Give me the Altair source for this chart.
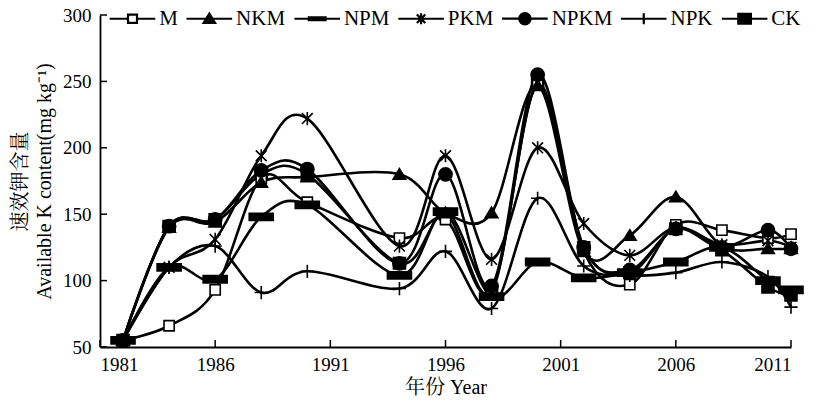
import altair as alt
import pandas as pd

years = [1982, 1984, 1986, 1988, 1990, 1994, 1996, 1998, 2000, 2002, 2004, 2006, 2008, 2010, 2011]
series_names = ["M", "NKM", "NPM", "PKM", "NPKM", "NPK", "CK"]

M_vals    = [55, 66, 93, 177, 159, 132, 146, 92, 247, 122, 97, 142, 138, 132, 135]
NKM_vals  = [55, 140, 144, 174, 178, 180, 151, 151, 247, 122, 134, 163, 126, 124, 124]
NPM_vals  = [55, 110, 101, 148, 157, 104, 152, 88, 114, 102, 106, 114, 125, 100, 93]
PKM_vals  = [55, 110, 131, 194, 222, 126, 194, 116, 200, 143, 119, 140, 127, 130, 125]
NPKM_vals = [55, 141, 146, 183, 184, 113, 180, 96, 255, 125, 108, 139, 125, 138, 124]
NPK_vals  = [55, 110, 126, 91, 107, 94, 122, 79, 162, 111, 104, 106, 114, 103, 80]
CK_vals   = [55, 141, 146, 180, 180, 113, 150, 92, 248, 125, 106, 139, 123, 95, 89]

x_ticks = [1981, 1986, 1991, 1996, 2001, 2006, 2011]
y_ticks = [50, 100, 150, 200, 250, 300]

all_vals = [M_vals, NKM_vals, NPM_vals, PKM_vals, NPKM_vals, NPK_vals, CK_vals]
rows = []
for name, vals in zip(series_names, all_vals):
    for yr, v in zip(years, vals):
        rows.append({"year": yr, "value": v, "series": name})
df = pd.DataFrame(rows)

marker_paths = [
    "M-0.85,-0.85L0.85,-0.85L0.85,0.85L-0.85,0.85Z",          # M open square
    "M0,-0.95L1.05,0.8L-1.05,0.8Z",                          # NKM triangle
    "M-2,-0.6L2,-0.6L2,0.6L-2,0.6Z",                         # NPM bar
    "M-0.9,-0.9L0.9,0.9M-0.9,0.9L0.9,-0.9M0,-1.1L0,1.1",     # PKM asterisk
    "M1.1,0A1.1,1.1,0,1,1,-1.1,0A1.1,1.1,0,1,1,1.1,0Z",      # NPKM circle
    "M-1.1,0L1.1,0M0,-1.1L0,1.1",                            # NPK plus
    "M-1,-0.95L1,-0.95L1,0.95L-1,0.95Z",                     # CK filled square
]
# legend symbols: the same markers with a line segment through them
seg = "M-3.8,0L3.8,0"
legend_paths = [
    "M-3.8,0L-0.75,0M0.75,0L3.8,0M-0.75,-0.7L0.75,-0.7L0.75,0.7L-0.75,0.7Z",
    seg + "M0,-0.85L0.95,0.7L-0.95,0.7Z",
    seg + "M-1.4,-0.25L1.4,-0.25L1.4,0.25L-1.4,0.25Z",
    seg + "M-0.7,-0.7L0.7,0.7M-0.7,0.7L0.7,-0.7M0,-0.9L0,0.9",
    seg + "M0.95,0A0.95,0.95,0,1,1,-0.95,0A0.95,0.95,0,1,1,0.95,0Z",
    seg + "M0,-0.9L0,0.9",
    seg + "M-1.05,-0.8L1.05,-0.8L1.05,0.8L-1.05,0.8Z",
]
fills = ["white", "black", "black", "black", "black", "black", "black"]

FONT = "Liberation Serif, Times New Roman, Noto Serif CJK SC, Noto Sans CJK SC"

x_scale = alt.Scale(domain=[1981, 2011], nice=False, zero=False)
y_scale = alt.Scale(domain=[50, 300], nice=False, zero=False)

x_axis = alt.Axis(values=x_ticks, format="d", title="年份 Year", ticks=False,
                  labelPadding=8, titlePadding=3, grid=False)
y_axis = alt.Axis(values=y_ticks, title=["速效钾含量", "Available K content(mg kg⁻¹)"],
                  ticks=False, labelPadding=9, grid=False,
                  titleAngle=270, titleX=-80, titleY=166, titleAlign="center",
                  titleBaseline="middle", titleLineHeight=24)

legend = alt.Legend(orient="none", legendX=22, legendY=-7, direction="horizontal",
                    columns=7, title=None, labelFontSize=21, labelFont=FONT,
                    labelColor="black", padding=0, labelLimit=200, columnPadding=3.85,
                    symbolSize=144, symbolStrokeWidth=2.2, symbolStrokeColor="black",
                    symbolOpacity=1, symbolOffset=0, labelOffset=16.25)

lines = alt.Chart(df).mark_line(interpolate="cardinal", strokeWidth=2.6).encode(
    x=alt.X("year:Q", scale=x_scale, axis=x_axis),
    y=alt.Y("value:Q", scale=y_scale, axis=y_axis),
    color=alt.Color("series:N", scale=alt.Scale(domain=series_names, range=["black"] * 7),
                    legend=None),
)

points = alt.Chart(df).mark_point(size=144, stroke="black", strokeWidth=1.6, opacity=1).encode(
    x=alt.X("year:Q", scale=x_scale, axis=x_axis),
    y=alt.Y("value:Q", scale=y_scale, axis=y_axis),
    shape=alt.Shape("series:N", scale=alt.Scale(domain=series_names, range=marker_paths),
                    legend=None),
    fill=alt.Fill("series:N", scale=alt.Scale(domain=series_names, range=fills),
                  legend=None),
    order=alt.Order("series:N"),
)

# legend-only layer: no rows drawn, the legend comes from the scale domain
legend_layer = alt.Chart(df).transform_filter("false").mark_point(
    size=144, strokeWidth=2.2, opacity=1
).encode(
    x=alt.X("year:Q", scale=x_scale, axis=x_axis),
    y=alt.Y("value:Q", scale=y_scale, axis=y_axis),
    shape=alt.Shape("series:N", scale=alt.Scale(domain=series_names, range=legend_paths),
                    legend=legend),
    fill=alt.Fill("series:N", scale=alt.Scale(domain=series_names, range=fills),
                  legend=legend),
    stroke=alt.Stroke("series:N", scale=alt.Scale(domain=series_names, range=["black"] * 7),
                      legend=legend),
)

ytick_df = pd.DataFrame({"v": y_ticks})
xtick_df = pd.DataFrame({"t": x_ticks})

yticks = alt.Chart(ytick_df).mark_rule(color="black", strokeWidth=1.5).encode(
    y=alt.Y("v:Q", scale=y_scale, axis=y_axis),
    x=alt.value(0), x2=alt.value(7),
)
xticks = alt.Chart(xtick_df).mark_rule(color="black", strokeWidth=1.5).encode(
    x=alt.X("t:Q", scale=x_scale, axis=x_axis),
    y=alt.value(332), y2=alt.value(325),
)

chart = alt.layer(lines, points, legend_layer, yticks, xticks).resolve_scale(
    shape="independent", fill="independent", color="independent", stroke="independent"
).properties(
    width=691, height=332,
    autosize=alt.AutoSizeParams(type="none"),
    padding={"left": 100, "top": 15, "right": 28, "bottom": 59},
    background="white",
).configure_view(stroke=None).configure_axis(
    labelFont=FONT, titleFont=FONT, labelFontSize=19, titleFontSize=20,
    titleFontWeight="normal", labelColor="black", titleColor="black",
    domainColor="black", domainWidth=1.8,
)

chart.save("out.html", embed_options={"renderer": "svg", "actions": False})
